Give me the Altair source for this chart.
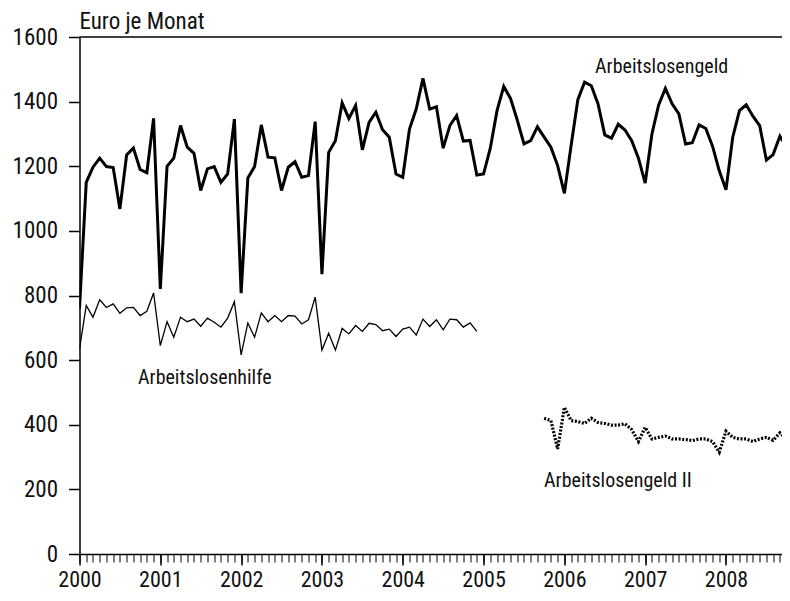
import altair as alt
import pandas as pd

FONT = "Roboto Condensed, Noto Sans Condensed, Open Sans Condensed, Liberation Sans Narrow, DejaVu Sans Condensed, sans-serif"

years = [2000, 2001, 2002, 2003, 2004, 2005, 2006, 2007, 2008]
y_ticks = [0, 200, 400, 600, 800, 1000, 1200, 1400, 1600]

# Arbeitslosengeld, monthly Jan 2000 - Nov 2008
alg = [
    760, 1150, 1197, 1225, 1199, 1196, 1068, 1235, 1256, 1190, 1180, 1348,
    820, 1200, 1225, 1326, 1259, 1240, 1125, 1192, 1199, 1150, 1176, 1346,
    807, 1164, 1199, 1328, 1228, 1226, 1125, 1197, 1214, 1166, 1171, 1338,
    866, 1243, 1279, 1396, 1348, 1388, 1251, 1336, 1367, 1313, 1290, 1176,
    1166, 1315, 1377, 1472, 1377, 1384, 1256, 1326, 1357, 1278, 1280, 1173,
    1176, 1256, 1372, 1447, 1410, 1343, 1269, 1279, 1322, 1290, 1259, 1202,
    1116, 1264, 1406, 1460, 1449, 1393, 1297, 1287, 1330, 1312, 1279, 1225,
    1148, 1300, 1390, 1441, 1393, 1362, 1269, 1273, 1328, 1317, 1262, 1186,
    1127, 1290, 1372, 1390, 1355, 1326, 1219, 1236, 1293, 1259, 1150,
]
alg_start = 0  # month index from Jan 2000

# Arbeitslosenhilfe, monthly Jan 2000 - Dec 2004
alh = [
    634, 769, 733, 787, 763, 774, 745, 762, 763, 738, 751, 808,
    645, 719, 671, 733, 719, 727, 705, 730, 717, 702, 730, 781,
    616, 715, 671, 746, 719, 738, 719, 738, 736, 712, 725, 795,
    631, 683, 631, 698, 681, 707, 689, 714, 710, 691, 696, 673,
    696, 702, 678, 727, 704, 725, 694, 727, 725, 702, 715, 689,
]
alh_start = 0

# Arbeitslosengeld II, monthly Oct 2005 - Nov 2008
alg2 = [
    420, 413, 325,
    454, 413, 410, 404, 420, 407, 404, 399, 399, 403, 385, 348,
    392, 356, 361, 365, 356, 356, 354, 351, 356, 356, 348, 315,
    380, 361, 356, 356, 348, 356, 361, 352, 375, 356, 356,
]
alg2_start = 69

labels = ["Arbeitslosengeld", "Arbeitslosenhilfe", "Arbeitslosengeld II"]
label_t = [2006.38, 2000.724, 2005.749]
label_v = [1489, 526, 207]


def frame(vals, start):
    return pd.DataFrame({"t": [2000 + (start + i) / 12 for i in range(len(vals))], "v": vals})


df_alg = frame(alg, alg_start)
df_alh = frame(alh, alh_start)
df_alg2 = frame(alg2, alg2_start)
df_lab = pd.DataFrame({"label": labels, "t": label_t, "v": label_v})

months = [2000 + i / 12 for i in range(106)]

xscale = alt.Scale(domain=[2000, 2008.693], nice=False, zero=False)
yscale = alt.Scale(domain=[0, 1600], nice=False)

y_axis = alt.Axis(values=y_ticks, format="d", tickSize=11, labelPadding=11, grid=False,
                  title=None, domainWidth=1.5, tickWidth=1.5, labelFontSize=23)

def Y():
    return alt.Y("v:Q", scale=yscale, axis=y_axis)

major_x = alt.Axis(values=years, format="d", tickSize=11, labelPadding=4, grid=False,
                   title=None, domainWidth=1.5, tickWidth=1.5, labelFontSize=22,
                   labelFlush=False, labelOverlap=False, orient="bottom")
minor_x = alt.Axis(values=months, labels=False, domain=False, tickSize=8, tickWidth=1,
                   grid=False, title=None, orient="bottom")

line_alg = alt.Chart(df_alg).mark_line(color="black", strokeWidth=3, strokeJoin="miter", clip=True).encode(
    x=alt.X("t:Q", scale=xscale, axis=major_x), y=Y())
line_alh = alt.Chart(df_alh).mark_line(color="black", strokeWidth=1.3, strokeJoin="miter", clip=True).encode(
    x=alt.X("t:Q", scale=xscale, axis=minor_x), y=Y())
line_alg2 = alt.Chart(df_alg2).mark_line(color="black", strokeWidth=3.2, strokeDash=[2, 1.6], clip=True).encode(
    x=alt.X("t:Q", scale=xscale, axis=None), y=Y())

top_rule = alt.Chart(pd.DataFrame({"v": [1600]})).mark_rule(color="black", strokeWidth=1.5).encode(y=Y())

texts = alt.Chart(df_lab).mark_text(align="left", baseline="alphabetic", font=FONT, fontSize=20, color="#111").encode(
    x=alt.X("t:Q", scale=xscale, axis=None), y=Y(), text="label:N")

title = alt.Chart(pd.DataFrame({"txt": ["Euro je Monat"]})).mark_text(
    align="left", baseline="alphabetic", font=FONT, fontSize=23, color="#111").encode(
    x=alt.value(0), y=alt.value(-8), text="txt:N")

chart = alt.layer(top_rule, line_alh, line_alg2, line_alg, texts, title).resolve_axis(
    x="independent").properties(
    width=702.5, height=517,
    autosize=alt.AutoSizeParams(type="none"),
    padding={"left": 71.5, "top": 29, "right": 0, "bottom": 39},
).configure_view(stroke=None).configure_axis(
    labelFont=FONT, labelColor="#111", domainColor="black", tickColor="black")

chart.save("out.html", embed_options={"renderer": "svg", "actions": False})
